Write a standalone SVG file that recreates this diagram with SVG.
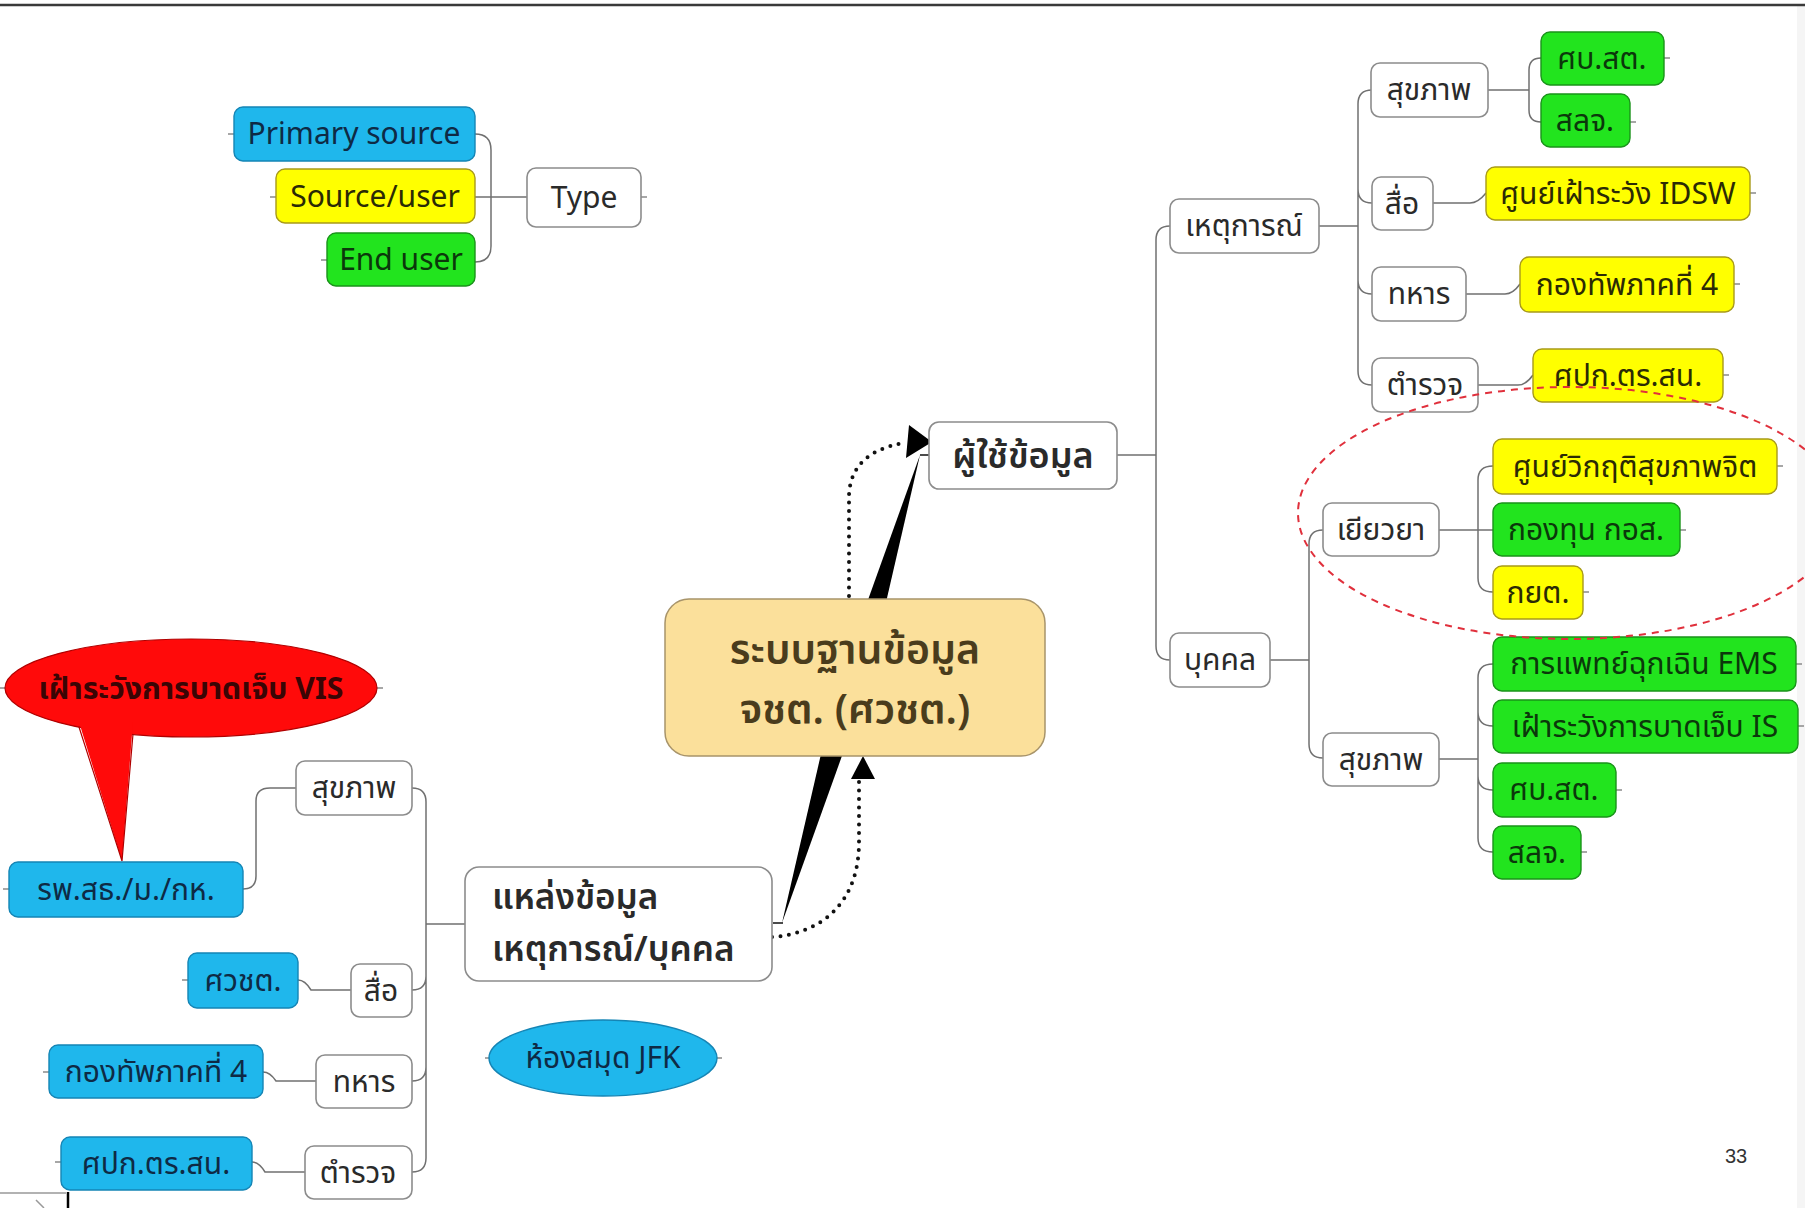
<svg xmlns="http://www.w3.org/2000/svg" width="1805" height="1208" viewBox="0 0 1805 1208">
<style>
.n{fill:#fff;stroke:#8c8c8c;stroke-width:1.6}
.b{fill:#1FB7EC;stroke:#1585b5;stroke-width:1.4}
.y{fill:#FFFF00;stroke:#a89a1a;stroke-width:1.4}
.g{fill:#22E41E;stroke:#1a931a;stroke-width:1.4}
text{font-family:"Noto Sans Thai","Noto Sans","DejaVu Sans",sans-serif;font-size:30px;fill:#2a2a2a;text-anchor:middle}
.tb{fill:#0e2a45}
.ty{fill:#2b2a05}
.tg{fill:#0b380b}
.big{font-weight:600}
.lk{fill:none;stroke:#707070;stroke-width:1.5}
.tk{fill:none;stroke:#8a8a8a;stroke-width:1.5}
.dot{fill:none;stroke:#111;stroke-width:4;stroke-linecap:round;stroke-dasharray:0 8.5}
</style>
<rect x="0" y="0" width="1805" height="1208" fill="#fff"/>
<rect x="1797" y="6" width="8" height="1202" fill="#f5f5f5"/>
<line x1="0" y1="5" x2="1805" y2="5" stroke="#3a3a3a" stroke-width="2.5"/>

<g id="connectors">
  <path class="lk" d="M475,134 Q491,134 491,150 V246 Q491,262 475,262 M475,197 H527"/>
  <path class="lk" d="M1117,455 H1156 M1170,226 Q1156,226 1156,240 V646 Q1156,660 1170,660"/>
  <path class="lk" d="M1319,226 H1358 M1372,90 Q1358,90 1358,104 V371 Q1358,385 1372,385 M1358,189 Q1358,203 1372,203 M1358,280 Q1358,294 1372,294"/>
  <path class="lk" d="M1488,90 H1529 M1541,58 Q1529,58 1529,70 V110 Q1529,122 1541,122"/>
  <path class="lk" d="M1433,203 H1470 Q1478,203 1486,193"/>
  <path class="lk" d="M1466,294 H1505 Q1513,294 1520,284"/>
  <path class="lk" d="M1478,385 H1518 Q1526,385 1533,375"/>
  <path class="lk" d="M1270,660 H1309 M1323,530 Q1309,530 1309,544 V744 Q1309,758 1323,758"/>
  <path class="lk" d="M1439,530 H1493 M1493,466 Q1478,466 1478,480 V578 Q1478,592 1493,592"/>
  <path class="lk" d="M1439,759 H1478 M1493,664 Q1478,664 1478,678 V838 Q1478,852 1493,852 M1478,712 Q1478,726 1493,726 M1478,776 Q1478,790 1493,790"/>
  <path class="lk" d="M426,924 H465 M412,788 Q426,788 426,802 V1158 Q426,1172 412,1172 M426,976 Q426,990 412,990 M426,1067 Q426,1081 412,1081"/>
  <path class="lk" d="M243,889 Q256,889 256,876 V801 Q256,788 270,788 H296"/>
  <path class="lk" d="M298,980 Q305,980 311,990 H351"/>
  <path class="lk" d="M263,1072 Q270,1072 276,1081 H316"/>
  <path class="lk" d="M252,1162 Q259,1162 265,1172 H305"/>
  <path class="tk" d="M228,134 H234 M270,197 H276 M321,260 H327 M641,197 H647 M1664,58 H1670 M1630,122 H1636 M1750,193 H1756 M1734,284 H1740 M1723,375 H1729 M1777,466 H1783 M1680,530 H1686 M1583,592 H1589 M1796,664 H1802 M1798,726 H1804 M1616,790 H1622 M1581,852 H1587 M3,889 H9 M182,980 H188 M43,1072 H49 M55,1162 H61 M0,688 H5 M377,688 H383 M485,1058 H490 M717,1058 H722"/>
  <path d="M773,923 H783 M920,455 H929" stroke="#111" stroke-width="1.5" fill="none"/>
  <polygon points="782,923 836,689 920,455 866,689" fill="#000"/>
  <path class="dot" d="M849,596 V495 Q851,452 904,443"/>
  <polygon points="909,425 932,442 906,458" fill="#000"/>
  <path class="dot" d="M772,937 C818,934 859,906 859,842 V781"/>
  <polygon points="851,779 863,756 875,779" fill="#000"/>
</g>

<g id="n-primary"><rect class="b" x="234" y="107" width="241" height="54" rx="9"/><text class="tb" x="354" y="144">Primary source</text></g>
<g id="n-sourceuser"><rect class="y" x="276" y="169" width="199" height="54" rx="9"/><text class="ty" x="375" y="207">Source/user</text></g>
<g id="n-enduser"><rect class="g" x="327" y="233" width="148" height="53" rx="9"/><text class="tg" x="401" y="270">End user</text></g>
<g id="n-type"><rect class="n" x="527" y="168" width="114" height="59" rx="9"/><text x="584" y="208">Type</text></g>

<g id="n-center"><rect x="665" y="599" width="380" height="157" rx="24" fill="#FBE09B" stroke="#a8946a" stroke-width="1.5"/><text class="big" x="855" y="664" style="font-size:41px;fill:#4a3c1c">ระบบฐานข้อมูล</text><text class="big" x="855" y="724" style="font-size:41px;fill:#4a3c1c">จชต. (ศวชต.)</text></g>
<g id="n-users"><rect class="n" x="929" y="422" width="188" height="67" rx="10"/><text class="big" x="1023" y="468" style="font-size:36px">ผู้ใช้ข้อมูล</text></g>
<g id="n-sources"><rect class="n" x="465" y="867" width="307" height="114" rx="14"/><text class="big" x="492" y="909" style="font-size:35px;text-anchor:start">แหล่งข้อมูล</text><text class="big" x="492" y="961" style="font-size:35px;text-anchor:start">เหตุการณ์/บุคคล</text></g>
<g id="n-jfk"><ellipse cx="603" cy="1058" rx="114" ry="38" fill="#1FB7EC" stroke="#1585b5" stroke-width="1.4"/><text class="tb" x="603" y="1068">ห้องสมุด JFK</text></g>
<g id="n-vis"><ellipse cx="191" cy="688" rx="186" ry="49" fill="#FF0A0A" stroke="#b00000" stroke-width="1.2"/><polygon points="79,722 122,861 133,722" fill="#FF0A0A"/><path d="M79,727 L122,861 L133,734" fill="none" stroke="#b00000" stroke-width="1.2"/><text x="191" y="699" textLength="305" lengthAdjust="spacingAndGlyphs" style="fill:#3a0505;font-weight:bold">เฝ้าระวังการบาดเจ็บ VIS</text></g>

<g id="n-event"><rect class="n" x="1170" y="199" width="149" height="54" rx="9"/><text x="1244" y="236">เหตุการณ์</text></g>
<g id="n-r-health"><rect class="n" x="1371" y="63" width="117" height="54" rx="9"/><text x="1429" y="100">สุขภาพ</text></g>
<g id="n-r-sbst1"><rect class="g" x="1541" y="32" width="123" height="53" rx="9"/><text class="tg" x="1602" y="69">ศบ.สต.</text></g>
<g id="n-r-slj1"><rect class="g" x="1541" y="94" width="89" height="53" rx="9"/><text class="tg" x="1585" y="131">สลจ.</text></g>
<g id="n-r-media"><rect class="n" x="1372" y="177" width="61" height="53" rx="9"/><text x="1402" y="214">สื่อ</text></g>
<g id="n-r-idsw"><rect class="y" x="1486" y="167" width="264" height="53" rx="9"/><text class="ty" x="1618" y="204">ศูนย์เฝ้าระวัง IDSW</text></g>
<g id="n-r-army"><rect class="n" x="1372" y="267" width="94" height="54" rx="9"/><text x="1419" y="304">ทหาร</text></g>
<g id="n-r-army4"><rect class="y" x="1520" y="257" width="214" height="55" rx="9"/><text class="ty" x="1627" y="295">กองทัพภาคที่ 4</text></g>
<g id="n-r-police"><rect class="n" x="1372" y="358" width="106" height="54" rx="9"/><text x="1425" y="395">ตำรวจ</text></g>
<g id="n-r-spk"><rect class="y" x="1533" y="349" width="190" height="53" rx="9"/><text class="ty" x="1628" y="386">ศปก.ตร.สน.</text></g>

<g id="n-person"><rect class="n" x="1170" y="633" width="100" height="54" rx="9"/><text x="1220" y="670">บุคคล</text></g>
<g id="n-remedy"><rect class="n" x="1323" y="503" width="116" height="53" rx="9"/><text x="1381" y="540">เยียวยา</text></g>
<g id="n-crisis"><rect class="y" x="1493" y="439" width="284" height="55" rx="9"/><text class="ty" x="1635" y="477">ศูนย์วิกฤติสุขภาพจิต</text></g>
<g id="n-fund"><rect class="g" x="1493" y="503" width="187" height="53" rx="9"/><text class="tg" x="1586" y="540">กองทุน กอส.</text></g>
<g id="n-kyt"><rect class="y" x="1493" y="566" width="90" height="53" rx="9"/><text class="ty" x="1538" y="603">กยต.</text></g>
<g id="n-p-health"><rect class="n" x="1323" y="733" width="116" height="53" rx="9"/><text x="1381" y="770">สุขภาพ</text></g>
<g id="n-ems"><rect class="g" x="1493" y="637" width="303" height="54" rx="9"/><text class="tg" x="1644" y="674">การแพทย์ฉุกเฉิน EMS</text></g>
<g id="n-is"><rect class="g" x="1493" y="700" width="305" height="53" rx="9"/><text class="tg" x="1645" y="737">เฝ้าระวังการบาดเจ็บ IS</text></g>
<g id="n-sbst2"><rect class="g" x="1493" y="763" width="123" height="54" rx="9"/><text class="tg" x="1554" y="800">ศบ.สต.</text></g>
<g id="n-slj2"><rect class="g" x="1493" y="826" width="88" height="53" rx="9"/><text class="tg" x="1537" y="863">สลจ.</text></g>

<g id="n-l-health"><rect class="n" x="296" y="761" width="116" height="54" rx="9"/><text x="354" y="798">สุขภาพ</text></g>
<g id="n-l-hosp"><rect class="b" x="9" y="862" width="234" height="55" rx="9"/><text class="tb" x="126" y="900">รพ.สธ./ม./กห.</text></g>
<g id="n-l-media"><rect class="n" x="351" y="964" width="61" height="53" rx="9"/><text x="381" y="1001">สื่อ</text></g>
<g id="n-l-swcht"><rect class="b" x="188" y="953" width="110" height="55" rx="9"/><text class="tb" x="243" y="991">ศวชต.</text></g>
<g id="n-l-army"><rect class="n" x="316" y="1055" width="96" height="53" rx="9"/><text x="364" y="1092">ทหาร</text></g>
<g id="n-l-army4"><rect class="b" x="49" y="1045" width="214" height="53" rx="9"/><text class="tb" x="156" y="1082">กองทัพภาคที่ 4</text></g>
<g id="n-l-police"><rect class="n" x="305" y="1146" width="107" height="53" rx="9"/><text x="358" y="1183">ตำรวจ</text></g>
<g id="n-l-spk"><rect class="b" x="61" y="1137" width="191" height="53" rx="9"/><text class="tb" x="156" y="1174">ศปก.ตร.สน.</text></g>

<ellipse cx="1570" cy="513" rx="272" ry="126" fill="none" stroke="#e0303c" stroke-width="2" stroke-dasharray="7 6"/>
<text x="1736" y="1163" style="font-family:'Liberation Sans',sans-serif;font-size:20px;fill:#333">33</text>
<path d="M0,1193 H66 M36,1200 L44,1208" stroke="#999" stroke-width="1.5" fill="none"/>
<path d="M68,1192 V1208" stroke="#000" stroke-width="2.5"/>
</svg>
